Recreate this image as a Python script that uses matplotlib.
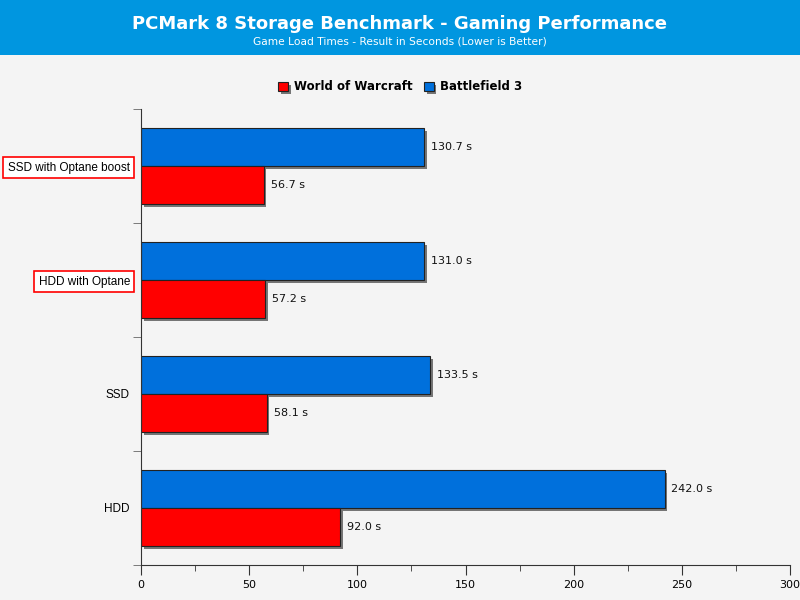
import numpy as np
import matplotlib.pyplot as plt
import matplotlib.patheffects as pe
from matplotlib.patches import Rectangle
from matplotlib.ticker import MultipleLocator

# Data
categories = ["SSD with Optane boost", "HDD with Optane", "SSD", "HDD"]
wow_times = [56.7, 57.2, 58.1, 92.0]
bf3_times = [130.7, 131.0, 133.5, 242.0]
highlighted = ["SSD with Optane boost", "HDD with Optane"]

red = "#FF0000"
blue = "#0070DC"
bg = "#F4F4F4"
header = "#0096E0"

fig = plt.figure(figsize=(8, 6), dpi=100, facecolor=bg)

# header band
fig.patches.append(Rectangle((0, 1 - 55 / 600), 1, 55 / 600, transform=fig.transFigure,
                             facecolor=header, edgecolor="none", zorder=0))
fig.text(0.5, 1 - 24 / 600, "PCMark 8 Storage Benchmark - Gaming Performance",
         ha="center", va="center", color="white", fontsize=13, fontweight="bold")
fig.text(0.5, 1 - 41 / 600, "Game Load Times - Result in Seconds (Lower is Better)",
         ha="center", va="center", color="white", fontsize=7.7)

ax = fig.add_axes([141 / 800, 1 - 565 / 600, (790 - 141) / 800, (565 - 109) / 600])
ax.set_facecolor(bg)

y = np.arange(len(categories))
h = 1 / 3
shadow = [pe.SimplePatchShadow(offset=(2, -2), shadow_rgbFace="#555555", alpha=0.8), pe.Normal()]

b1 = ax.barh(y - h / 2, bf3_times, height=h, color=blue, edgecolor="#222222", linewidth=0.8,
             label="Battlefield 3", path_effects=shadow)
b2 = ax.barh(y + h / 2, wow_times, height=h, color=red, edgecolor="#222222", linewidth=0.8,
             label="World of Warcraft", path_effects=shadow)

for bars, vals in ((b1, bf3_times), (b2, wow_times)):
    for bar, v in zip(bars, vals):
        ax.annotate(f"{v:.1f} s", (v, bar.get_y() + bar.get_height() / 2),
                    xytext=(5, 0), textcoords="offset points", va="center", ha="left",
                    fontsize=8, color="#111111")

ax.set_xlim(0, 300)
ax.set_ylim(len(categories) - 0.5, -0.5)
ax.xaxis.set_major_locator(MultipleLocator(50))
ax.xaxis.set_minor_locator(MultipleLocator(25))
ax.tick_params(axis="x", which="major", length=7, color="#333333", labelsize=8, pad=4)
ax.tick_params(axis="x", which="minor", length=4, color="#333333")

ax.set_yticks(y)
ax.set_yticklabels(categories, fontsize=8.5, family="Liberation Sans")
ax.set_yticks(np.arange(len(categories) + 1) - 0.5, minor=True)
ax.tick_params(axis="y", which="major", length=0, pad=8)
ax.tick_params(axis="y", which="minor", length=6, color="#666666")

for lbl in ax.get_yticklabels():
    if lbl.get_text() in highlighted:
        lbl.set_bbox(dict(facecolor="white", edgecolor=red, linewidth=1.2, pad=0.38,
                          boxstyle="square"))

for s in ("top", "right"):
    ax.spines[s].set_visible(False)
ax.spines["left"].set_color("#333333")
ax.spines["bottom"].set_color("#333333")

handles = [b2, b1]
leg = fig.legend(handles, [hd.get_label() for hd in handles], loc="center",
                 bbox_to_anchor=(0.5, 1 - 87 / 600), ncol=2, frameon=False,
                 prop={"weight": "bold", "size": 8.5}, handlelength=0.8, handleheight=0.8,
                 handletextpad=0.5, columnspacing=1.0)

fig.savefig("out.png", dpi=100, facecolor=bg)
